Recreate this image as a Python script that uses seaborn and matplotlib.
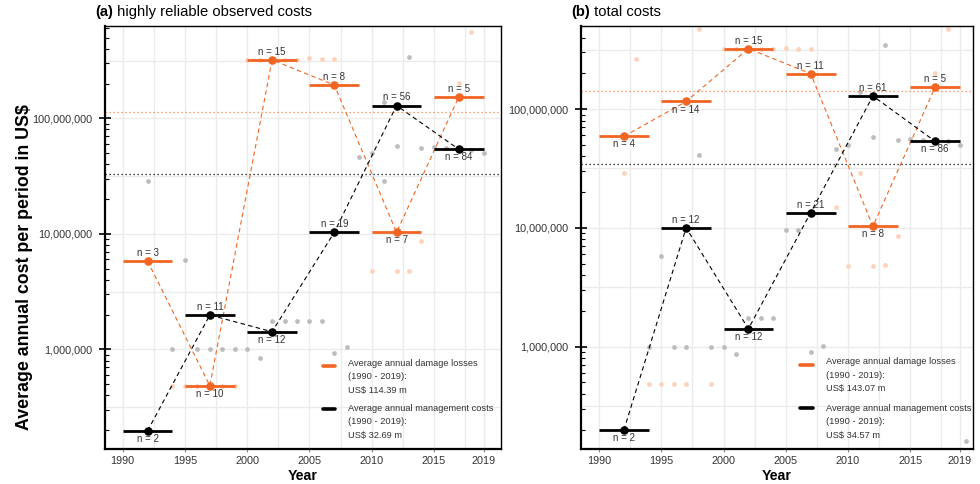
import numpy as np
import pandas as pd
import matplotlib
matplotlib.use("Agg")
import matplotlib.pyplot as plt
import seaborn as sns
from matplotlib.lines import Line2D
from matplotlib.ticker import FixedLocator, FuncFormatter, NullFormatter

# ---------------- data ----------------
period_center = [1992, 1997, 2002, 2007, 2012, 2017]
period_start = [1990, 1995, 2000, 2005, 2010, 2015]
period_end = [1994, 1999, 2004, 2009, 2014, 2019]

# panel (a) highly reliable observed costs
a_damage = [5.81e6, 4.84e5, 3.20e8, 1.94e8, 1.03e7, 1.53e8]
a_damage_n = [3, 10, 15, 8, 7, 5]
a_mgmt = [1.97e5, 1.98e6, 1.42e6, 1.03e7, 1.29e8, 5.39e7]
a_mgmt_n = [2, 11, 12, 19, 56, 84]
a_damage_avg = 114.39
a_mgmt_avg = 32.69

a_mgmt_year = [1992, 1994, 1995, 1996, 1997, 1998, 1999, 2000, 2001, 2002, 2003, 2004,
               2005, 2006, 2007, 2008, 2009, 2010, 2011, 2011, 2012, 2013, 2014, 2015,
               2016, 2018, 2019]
a_mgmt_obs = [2.86e7, 1.0e6, 5.9e6, 1.0e6, 1.0e6, 1.0e6, 1.0e6, 1.0e6, 8.4e5, 1.76e6,
              1.76e6, 1.76e6, 1.76e6, 1.76e6, 9.2e5, 1.05e6, 4.6e7, 5.0e7, 2.86e7, 1.38e8,
              5.8e7, 3.4e8, 5.5e7, 5.6e7, 5.5e7, 5.3e7, 5.0e7]
a_damage_year = [1994, 1995, 1996, 1997, 1998, 1999, 2000, 2001, 2002, 2003, 2004, 2005,
                 2006, 2007, 2010, 2012, 2013, 2014, 2017, 2018]
a_damage_obs = [4.84e5, 4.84e5, 4.84e5, 4.84e5, 4.84e5, 4.84e5, 3.2e8, 3.2e8, 3.2e8,
                3.2e8, 3.2e8, 3.3e8, 3.25e8, 3.25e8, 4.77e6, 4.77e6, 4.77e6, 8.7e6,
                2.03e8, 5.6e8]

# panel (b) total costs
b_damage = [5.89e7, 1.16e8, 3.23e8, 1.99e8, 1.03e7, 1.53e8]
b_damage_n = [4, 14, 15, 11, 8, 5]
b_mgmt = [1.98e5, 1.0e7, 1.41e6, 1.34e7, 1.29e8, 5.35e7]
b_mgmt_n = [2, 12, 12, 21, 61, 86]
b_damage_avg = 143.07
b_mgmt_avg = 34.57

b_mgmt_year = [1994, 1995, 1996, 1997, 1998, 1999, 2000, 2001, 2002, 2003, 2004, 2005,
               2006, 2007, 2008, 2009, 2010, 2011, 2012, 2013, 2014, 2015, 2016, 2018,
               2019, 2019.5]
b_mgmt_obs = [1.0e6, 5.8e6, 1.0e6, 1.0e6, 4.1e7, 1.0e6, 1.0e6, 8.6e5, 1.73e6, 1.73e6,
              1.73e6, 9.5e6, 9.5e6, 9.0e5, 1.02e6, 4.6e7, 5.0e7, 1.38e8, 5.85e7, 3.45e8,
              5.5e7, 5.6e7, 5.5e7, 5.35e7, 5.0e7, 1.6e5]
b_damage_year = [1992, 1993, 1994, 1995, 1996, 1997, 1998, 1999, 2000, 2001, 2002, 2003,
                 2004, 2005, 2006, 2007, 2009, 2010, 2011, 2012, 2013, 2014, 2017, 2018]
b_damage_obs = [2.88e7, 2.66e8, 4.86e5, 4.86e5, 4.86e5, 4.86e5, 4.7e8, 4.86e5, 3.23e8,
                3.23e8, 3.23e8, 3.23e8, 3.23e8, 3.3e8, 3.23e8, 3.23e8, 1.49e7, 4.75e6,
                2.88e7, 4.75e6, 4.9e6, 8.6e6, 2.03e8, 4.7e8]

x_ticks = [1990, 1995, 2000, 2005, 2010, 2015, 2019]

# label sides (style): +1 above, -1 below
a_damage_side = [1, -1, 1, 1, -1, 1]
a_mgmt_side = [-1, 1, -1, 1, 1, -1]
b_damage_side = [-1, -1, 1, 1, -1, 1]
b_mgmt_side = [-1, 1, -1, 1, 1, -1]

# ---------------- style ----------------
sns.set_theme(style="white")
plt.rcParams['font.family'] = ['Liberation Sans', 'DejaVu Sans']

ORANGE = '#f26522'
FAINT_OR = '#fcd3bb'
GREY_PT = '#bdbdbd'
GRID = '#ebebeb'
TXT = '#333333'

fig = plt.figure(figsize=(9.8, 4.84), dpi=100)
W, H = 980, 484
PT = 72 / 100  # points per pixel

def px_axes(x0, x1, y0, y1):
    return fig.add_axes([x0 / W, 1 - y1 / H, (x1 - x0) / W, (y1 - y0) / H])

ax_a = px_axes(104.5, 501, 26, 449)
ax_b = px_axes(580.7, 973, 26, 449)

panels = [
    dict(ax=ax_a, tag="(a)", title=" highly reliable observed costs",
         dmg=a_damage, dmg_n=a_damage_n, mg=a_mgmt, mg_n=a_mgmt_n,
         dmg_avg=a_damage_avg, mg_avg=a_mgmt_avg,
         mg_year=a_mgmt_year, mg_obs=a_mgmt_obs, dmg_year=a_damage_year, dmg_obs=a_damage_obs,
         dside=a_damage_side, mside=a_mgmt_side,
         xlim=(1988.54, 2020.39), ylim=(10 ** 5.137, 10 ** 8.799),
         leg_hx=(0.5503, 0.5821), leg_tx=0.615, leg_y=(0.1955, 0.0946), leg_ty=(0.2026, 0.0962)),
    dict(ax=ax_b, tag="(b)", title=" total costs",
         dmg=b_damage, dmg_n=b_damage_n, mg=b_mgmt, mg_n=b_mgmt_n,
         dmg_avg=b_damage_avg, mg_avg=b_mgmt_avg,
         mg_year=b_mgmt_year, mg_obs=b_mgmt_obs, dmg_year=b_damage_year, dmg_obs=b_damage_obs,
         dside=b_damage_side, mside=b_mgmt_side,
         xlim=(1988.53, 2020.04), ylim=(10 ** 5.137, 10 ** 8.70),
         leg_hx=(0.559, 0.593), leg_tx=0.625, leg_y=(0.1979, 0.0962), leg_ty=(0.2064, 0.0969)),
]

for p in panels:
    ax = p['ax']
    ax.set_facecolor('white')
    ax.set_yscale('log')
    ax.set_xlim(*p['xlim'])
    ax.set_ylim(*p['ylim'])

    # grid
    ax.xaxis.set_major_locator(FixedLocator(x_ticks))
    ax.xaxis.set_minor_locator(FixedLocator([1992.5, 1997.5, 2002.5, 2007.5, 2012.5, 2017.5]))
    ax.grid(True, which='both', axis='x', color=GRID, lw=1.0, zorder=0)
    ax.yaxis.set_major_locator(FixedLocator([1e6, 1e7, 1e8]))
    ax.yaxis.set_minor_locator(FixedLocator([m * 10.0 ** k for k in range(5, 9) for m in range(2, 10)]))
    ax.yaxis.set_minor_formatter(NullFormatter())
    ax.grid(True, which='major', axis='y', color=GRID, lw=1.0, zorder=0)
    for k in range(5, 9):
        ax.axhline(10 ** (k + 0.5), color=GRID, lw=1.0, zorder=0)
    ax.set_axisbelow(True)

    ax.yaxis.set_major_formatter(FuncFormatter(lambda v, pos: f"{int(round(v)):,}"))
    ax.tick_params(axis='y', which='major', direction='inout', length=9, width=1.2,
                   color='black', labelsize=7.8, labelcolor=TXT, pad=4.5, left=True)
    ax.tick_params(axis='y', which='minor', direction='in', length=3, width=0.8,
                   color='black', left=True)
    ax.tick_params(axis='x', which='major', direction='out', length=2.5, width=0.8,
                   color='#888888', labelsize=7.8, labelcolor=TXT, pad=2.5, bottom=True)
    ax.tick_params(axis='x', which='minor', length=0)

    for s in ax.spines.values():
        s.set_visible(True)
        s.set_color('black')
        s.set_linewidth(1.0)
    ax.spines['left'].set_linewidth(1.6)
    ax.spines['bottom'].set_linewidth(1.6)

    # faint individual observations
    sns.scatterplot(x=p['dmg_year'], y=p['dmg_obs'], color=FAINT_OR, s=12, linewidth=0,
                    ax=ax, zorder=2, legend=False)
    sns.scatterplot(x=p['mg_year'], y=p['mg_obs'], color=GREY_PT, s=12, linewidth=0,
                    ax=ax, zorder=2, legend=False)

    # long-term averages
    ax.axhline(p['dmg_avg'] * 1e6, color=ORANGE, ls=(0, (1, 2.2)), lw=0.9, zorder=2, alpha=0.8)
    ax.axhline(p['mg_avg'] * 1e6, color='black', ls=(0, (1, 2.2)), lw=0.9, zorder=2)

    for vals, ns, side, col in [(p['dmg'], p['dmg_n'], p['dside'], ORANGE),
                                 (p['mg'], p['mg_n'], p['mside'], 'black')]:
        sns.lineplot(x=period_center, y=vals, color=col, lw=0.8, ax=ax, zorder=3,
                     estimator=None, sort=False, legend=False, dashes=False,
                     linestyle=(0, (4, 3)))
        ax.hlines(vals, period_start, period_end, colors=col, lw=2.0, zorder=4)
        sns.scatterplot(x=period_center, y=vals, color=col, s=38, linewidth=0,
                        ax=ax, zorder=5, legend=False)
        for xc, v, n, sd in zip(period_center, vals, ns, side):
            ax.annotate(f"n = {n}", (xc, v), xytext=(0, 5.8 * sd), textcoords='offset points',
                        ha='center', va='center', fontsize=7, color=TXT, zorder=6)

    # legend (drawn as keys + text in axes coordinates)
    labels = [["Average annual damage losses", "(1990 - 2019):", f"US$ {p['dmg_avg']:.2f} m"],
              ["Average annual management costs", "(1990 - 2019):", f"US$ {p['mg_avg']:.2f} m"]]
    for col, hy, ty, lines in zip([ORANGE, 'black'], p['leg_y'], p['leg_ty'], labels):
        ax.add_line(Line2D(list(p['leg_hx']), [hy, hy], color=col, lw=2.6,
                           transform=ax.transAxes, zorder=7))
        for i, line in enumerate(lines):
            ax.annotate(line, xy=(p['leg_tx'], ty), xycoords='axes fraction',
                        xytext=(0, -13.6 * PT * i), textcoords='offset points',
                        ha='left', va='center', fontsize=6.7, color=TXT, zorder=7)

    ax.set_xlabel("")
    ax.set_ylabel("")

    # title
    t1 = ax.annotate(p['tag'], xy=(0, 1), xycoords='axes fraction', xytext=(-6.5, 5),
                     textcoords='offset points', ha='left', va='bottom',
                     fontsize=10.6, fontweight='bold', color='black')
    ax.annotate(p['title'], xy=(1, 0), xycoords=t1, ha='left', va='bottom',
                fontsize=10.6, color='black')

    # x label
    ax.annotate("Year", xy=(0.5, 0), xycoords='axes fraction', xytext=(0, -26.5 * PT),
                textcoords='offset points', ha='center', va='center',
                fontsize=10.2, fontweight='bold', color='black')

fig.text(25 / W, 1 - 267.5 / H, "Average annual cost per period in US$", rotation=90,
         ha='center', va='center', fontsize=12.8, fontweight='bold', color='black')

fig.savefig("out.png", dpi=100, facecolor='white')
